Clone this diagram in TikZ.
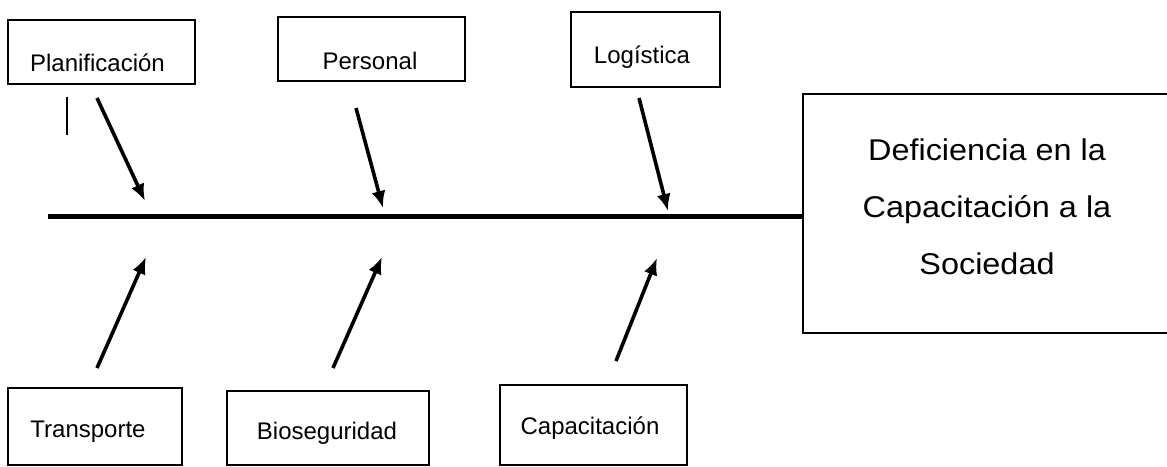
\documentclass[tikz,border=0pt]{standalone}
\usepackage{fontspec}
\setmainfont{Liberation Sans}
\newfontfamily\bigfont[FakeStretch=1.08]{Liberation Sans}
\usetikzlibrary{arrows.meta}
\tikzset{
  box/.style={draw, line width=1.8pt, minimum width=#1, inner sep=0pt},
  lbl/.style={anchor=base, inner sep=0pt, font=\fontsize{24}{28}\selectfont},
  cause/.style={line width=3.6pt, -{Latex[length=17pt,width=14pt]}},
}
\begin{document}
\begin{tikzpicture}[x=1pt,y=-1pt]
\useasboundingbox (0,0) rectangle (1167,466);
% boxes
\node[box=187pt, minimum height=64pt] (plan) at (101.5,52) {};
\node[box=187pt, minimum height=64pt] (pers) at (371.5,49) {};
\node[box=149pt, minimum height=75pt] (logi) at (645.5,49.5) {};
\node[box=174pt, minimum height=77pt] (tran) at (95,426.5) {};
\node[box=202pt, minimum height=74pt] (bios) at (328,428) {};
\node[box=187pt, minimum height=80pt] (capa) at (593.5,425) {};
\node[box=370pt, minimum height=239pt] (efecto) at (988,213.5) {};
% labels
\node[lbl] (planT) at (97.5,71) {Planificación};
\node[lbl] (persT) at (370,69) {Personal};
\node[lbl] (logiT) at (642,63) {Logística};
\node[lbl] (tranT) at (88,437) {Transporte};
\node[lbl] (biosT) at (327,439) {Bioseguridad};
\node[lbl] (capaT) at (590,434) {Capacitación};
\node[align=center, inner sep=0pt, font=\bigfont\fontsize{30}{57}\selectfont] (efectoT) at (987,207)
  {Deficiencia en la\\Capacitación a la\\Sociedad};
% spine
\coordinate (tail) at (48,216);
\draw[line width=5pt] (tail) -- (efecto.west |- tail);
% cause arrows
\coordinate (planS) at (97,98);   \coordinate (planE) at (145,201);
\coordinate (persS) at (356,108); \coordinate (persE) at (383,208);
\coordinate (logiS) at (639,98);  \coordinate (logiE) at (668,211);
\coordinate (tranS) at (97,368);  \coordinate (tranE) at (146,257);
\coordinate (biosS) at (333,368); \coordinate (biosE) at (382,257);
\coordinate (capaS) at (616,361); \coordinate (capaE) at (657,258);
\draw[cause] (planS) -- (planE);
\draw[cause] (persS) -- (persE);
\draw[cause] (logiS) -- (logiE);
\draw[cause] (tranS) -- (tranE);
\draw[cause] (biosS) -- (biosE);
\draw[cause] (capaS) -- (capaE);
% small stray mark
\coordinate (markA) at (67,97); \coordinate (markB) at (67,135);
\draw[line width=1.4pt] (markA) -- (markB);
\end{tikzpicture}
\end{document}
